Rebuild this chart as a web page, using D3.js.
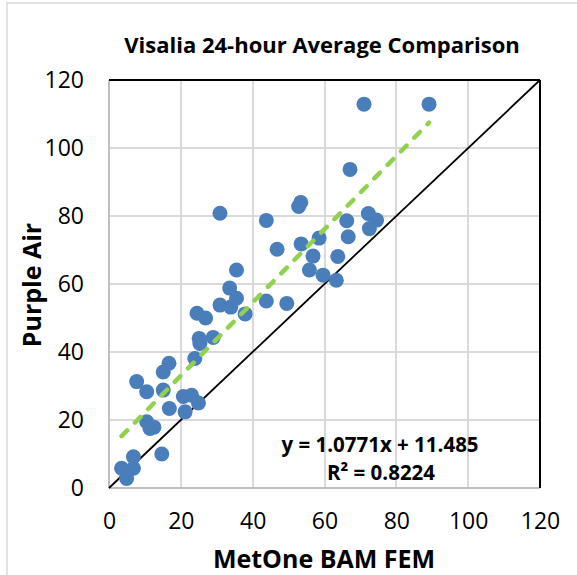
<!DOCTYPE html>
<html>
  <head>
    <title>Visalia 24-hour Average Comparison</title>
    <meta http-equiv="Content-Type" content="text/html; charset=utf-8">
    <style type="text/css">
      body { margin: 0; background: #fff; }
      text { font-family: "Open Sans", Lato, sans-serif; fill: #000; }
      .grid line { stroke: #d9d9d9; stroke-width: 2; shape-rendering: crispEdges; }
      .axis path, .axis line { display: none; }
    </style>
  </head>
  <body>
    <div id="main"></div>
    <script src="https://d3js.org/d3.v7.min.js"></script>
    <script>
    // MetOne BAM FEM (x) vs Purple Air (y), 24-hour averages
    var bamValues = [3.5, 6.8, 4.9, 6.8, 14.7, 10.5, 11.4, 12.5, 16.8, 21.2,
                     20.7, 23.0, 24.9, 10.5, 15.1, 7.7, 15.1, 16.7, 23.9, 25.3,
                     25.1, 29.0, 24.5, 26.9, 30.9, 33.9, 33.6, 35.5, 37.9, 35.5,
                     43.8, 49.5, 30.9, 43.8, 46.8, 53.4, 52.8, 53.5, 58.5, 56.8,
                     55.8, 59.6, 63.3, 63.7, 66.6, 66.2, 72.2, 74.5, 72.5, 67.1,
                     71.0, 89.1];
    var purpleAirValues = [5.8, 5.8, 2.8, 9.2, 10.0, 19.5, 17.5, 17.9, 23.4, 22.4,
                           26.9, 27.3, 25.0, 28.3, 28.8, 31.3, 34.1, 36.7, 38.1, 42.5,
                           44.0, 44.3, 51.4, 50.0, 53.8, 53.2, 58.8, 55.8, 51.2, 64.1,
                           55.0, 54.3, 80.8, 78.7, 70.2, 84.0, 82.8, 71.8, 73.5, 68.2,
                           64.1, 62.6, 61.1, 68.1, 73.9, 78.6, 80.7, 78.8, 76.3, 93.7,
                           112.9, 112.9];
    var tickValues = [0, 20, 40, 60, 80, 100, 120];
    var trendSlope = 1.0771, trendIntercept = 11.485, rSquared = 0.8224;

    var width = 577, height = 575,
        margin = {top: 80, right: 37, bottom: 87, left: 109};

    var svg = d3.select("#main")
      .append("svg")
        .attr("width", width)
        .attr("height", height);

    // chart frame
    svg.append("rect")
        .attr("x", 7).attr("y", 3)
        .attr("width", 600).attr("height", 600)
        .attr("fill", "none")
        .attr("stroke", "#d9d9d9")
        .attr("stroke-width", 1.5);

    var x = d3.scaleLinear().domain([0, 120]).range([margin.left, width - margin.right]);
    var y = d3.scaleLinear().domain([0, 120]).range([height - margin.bottom, margin.top]);

    // gridlines
    var grid = svg.append("g").attr("class", "grid");
    grid.selectAll(".gx").data(tickValues.slice(1, -1)).enter()
      .append("line")
        .attr("x1", function(d) { return x(d); })
        .attr("x2", function(d) { return x(d); })
        .attr("y1", y(0)).attr("y2", y(120));
    grid.selectAll(".gy").data(tickValues.slice(1, -1)).enter()
      .append("line")
        .attr("y1", function(d) { return y(d); })
        .attr("y2", function(d) { return y(d); })
        .attr("x1", x(0)).attr("x2", x(120));

    // plot border: grey on left/bottom, black on top/right
    svg.append("line")
        .attr("x1", x(0)).attr("x2", x(0)).attr("y1", y(0)).attr("y2", y(120))
        .attr("stroke", "#bfbfbf").attr("stroke-width", 2);
    svg.append("line")
        .attr("x1", x(0)).attr("x2", x(120)).attr("y1", y(0)).attr("y2", y(0))
        .attr("stroke", "#bfbfbf").attr("stroke-width", 2);
    svg.append("line")
        .attr("x1", x(0)).attr("x2", x(120)).attr("y1", y(120)).attr("y2", y(120))
        .attr("stroke", "#000").attr("stroke-width", 2);
    svg.append("line")
        .attr("x1", x(120)).attr("x2", x(120)).attr("y1", y(0)).attr("y2", y(120))
        .attr("stroke", "#000").attr("stroke-width", 2);

    // axes (labels only)
    svg.append("g")
        .attr("class", "axis")
        .attr("transform", "translate(0," + (y(0) + 25) + ")")
        .call(d3.axisBottom(x).tickValues(tickValues).tickSize(0).tickPadding(0))
        .selectAll("text")
          .style("font-size", "23px");
    svg.append("g")
        .attr("class", "axis")
        .attr("transform", "translate(" + (x(0) - 25) + ",0)")
        .call(d3.axisLeft(y).tickValues(tickValues).tickSize(0).tickPadding(0))
        .selectAll("text")
          .style("font-size", "23px");
    svg.selectAll(".axis").attr("font-family", null).attr("font-size", null);

    // 1:1 line
    svg.append("line")
        .attr("x1", x(0)).attr("y1", y(0))
        .attr("x2", x(120)).attr("y2", y(120))
        .attr("stroke", "#000")
        .attr("stroke-width", 1.8);

    // points
    var points = bamValues.map(function(d, i) { return [d, purpleAirValues[i]]; });
    svg.selectAll(".dot").data(points).enter()
      .append("circle")
        .attr("class", "dot")
        .attr("cx", function(d) { return x(d[0]); })
        .attr("cy", function(d) { return y(d[1]); })
        .attr("r", 7.5)
        .attr("fill", "#4a7ebb");

    // linear trendline
    var xExtent = d3.extent(bamValues);
    svg.append("line")
        .attr("x1", x(xExtent[0])).attr("y1", y(trendSlope * xExtent[0] + trendIntercept))
        .attr("x2", x(xExtent[1])).attr("y2", y(trendSlope * xExtent[1] + trendIntercept))
        .attr("stroke", "#92d050")
        .attr("stroke-width", 4.5)
        .attr("stroke-linecap", "round")
        .attr("stroke-dasharray", "8,11");

    // equation
    svg.append("text")
        .attr("x", 380).attr("y", 452)
        .attr("text-anchor", "middle")
        .style("font-size", "20.5px").style("font-weight", "bold")
        .text("y = " + trendSlope + "x + " + trendIntercept);
    svg.append("text")
        .attr("x", 381).attr("y", 480)
        .attr("text-anchor", "middle")
        .style("font-size", "20.5px").style("font-weight", "bold")
        .text("R\u00b2 = " + rSquared);

    // title and axis titles
    svg.append("text")
        .attr("x", 322).attr("y", 53)
        .attr("text-anchor", "middle")
        .style("font-size", "22px").style("font-weight", "bold")
        .text("Visalia 24-hour Average Comparison");
    svg.append("text")
        .attr("x", 324).attr("y", 568)
        .attr("text-anchor", "middle")
        .style("font-size", "25px").style("font-weight", "bold")
        .text("MetOne BAM FEM");
    svg.append("text")
        .attr("transform", "translate(41," + 285 + ") rotate(-90)")
        .attr("text-anchor", "middle")
        .style("font-size", "25px").style("font-weight", "bold")
        .text("Purple Air");
    </script>
  </body>
</html>
